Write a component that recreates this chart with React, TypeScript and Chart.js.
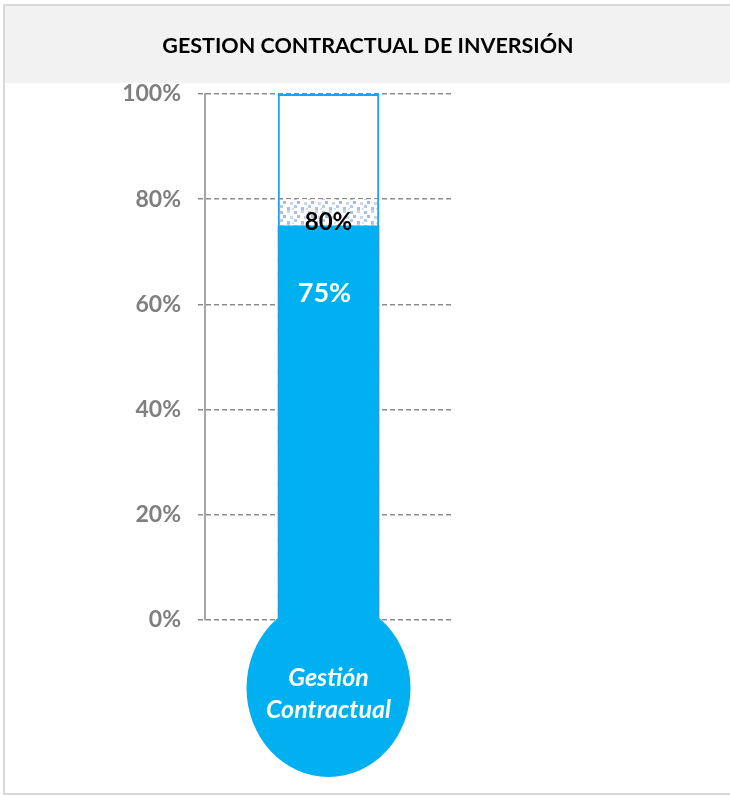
import { useEffect, useRef } from "react";
import { Chart, registerables } from "chart.js";

Chart.register(...registerables);

const categories = ["Gestión Contractual"];
const actualValues = [75];
const targetValues = [80];
const maxValues = [100];
const yTickValues = [0, 20, 40, 60, 80, 100];
const titleText = "GESTION CONTRACTUAL DE INVERSIÓN";
const bulbLines = ["Gestión", "Contractual"];

const BLUE = "#00B0F0";
const BORDER_BLUE = "#1F9EF2";
const FONT = "Lato, 'Open Sans', sans-serif";

function makePattern(): CanvasPattern | string {
  const c = document.createElement("canvas");
  c.width = 14;
  c.height = 14;
  const g = c.getContext("2d");
  if (!g) return "#dbe5f4";
  g.fillStyle = "#ffffff";
  g.fillRect(0, 0, 14, 14);
  const dots: [number, number, string][] = [
    [0, 1, "rgba(140,170,222,0.75)"],
    [7, 0, "rgba(160,185,228,0.6)"],
    [3, 5, "rgba(140,170,222,0.8)"],
    [10, 6, "rgba(165,190,230,0.6)"],
    [0, 9, "rgba(150,178,225,0.7)"],
    [7, 11, "rgba(140,170,222,0.75)"],
    [12, 12, "rgba(170,195,232,0.5)"],
  ];
  dots.forEach(([x, y, col]) => {
    g.fillStyle = col;
    g.fillRect(x, y, 3, 3);
  });
  const p = g.createPattern(c, "repeat");
  return p || "#dbe5f4";
}

const decorPlugin = {
  id: "decor",
  beforeDraw(chart: any) {
    const { ctx, width } = chart;
    ctx.save();
    ctx.fillStyle = "#ffffff";
    ctx.fillRect(0, 0, width, chart.height);
    // title band
    ctx.fillStyle = "#F2F2F2";
    ctx.fillRect(5, 6, width - 5, 77);
    // frame
    ctx.strokeStyle = "#D9D9D9";
    ctx.lineWidth = 2;
    ctx.beginPath();
    ctx.moveTo(4, 795);
    ctx.lineTo(4, 5);
    ctx.lineTo(width, 5);
    ctx.moveTo(4, 794);
    ctx.lineTo(width, 794);
    ctx.stroke();
    // title
    ctx.fillStyle = "#000000";
    ctx.font = `bold 21.5px ${FONT}`;
    ctx.textAlign = "center";
    ctx.textBaseline = "middle";
    ctx.fillText(titleText, 368, 46);
    ctx.restore();
  },
  afterDatasetsDraw(chart: any) {
    const { ctx, scales } = chart;
    const x = scales.x.getPixelForValue(0);
    const y0 = scales.y.getPixelForValue(0);
    const cx = x;
    const cy = y0 + 68;
    ctx.save();
    // bulb
    ctx.fillStyle = BLUE;
    ctx.beginPath();
    ctx.ellipse(cx, cy, 82, 89, 0, 0, Math.PI * 2);
    ctx.fill();
    ctx.fillStyle = "#ffffff";
    ctx.font = `italic bold 25px ${FONT}`;
    ctx.textAlign = "center";
    ctx.textBaseline = "middle";
    ctx.fillText(bulbLines[0], cx, cy - 10);
    ctx.fillText(bulbLines[1], cx, cy + 22);
    // value labels
    const actualBar = chart.getDatasetMeta(1).data[0];
    const targetBar = chart.getDatasetMeta(2).data[0];
    ctx.fillStyle = "#ffffff";
    ctx.font = `bold 27px ${FONT}`;
    ctx.fillText(actualValues[0] + "%", actualBar.x - 4, actualBar.y + 68);
    ctx.fillStyle = "#000000";
    ctx.font = `bold 24px ${FONT}`;
    ctx.fillText(targetValues[0] + "%", targetBar.x, targetBar.y + 23);
    ctx.restore();
  },
};

export default function App() {
  const ref = useRef<HTMLCanvasElement | null>(null);

  useEffect(() => {
    if (!ref.current) return;
    const pattern = makePattern();
    const chart = new Chart(ref.current, {
      type: "bar",
      data: {
        labels: categories,
        datasets: [
          {
            label: "Máximo",
            data: maxValues,
            backgroundColor: "rgba(0,0,0,0)",
            borderColor: BORDER_BLUE,
            borderWidth: 2,
            grouped: false,
            categoryPercentage: 1,
            barPercentage: 0.411,
          },
          {
            label: "Ejecutado",
            data: actualValues,
            backgroundColor: BLUE,
            borderWidth: 0,
            grouped: false,
            categoryPercentage: 1,
            barPercentage: 0.411,
          },
          {
            label: "Meta",
            data: targetValues,
            backgroundColor: pattern as any,
            borderWidth: 0,
            grouped: false,
            categoryPercentage: 1,
            barPercentage: 0.411,
          },
        ],
      } as any,
      options: {
        responsive: false,
        animation: false,
        devicePixelRatio: 1,
        layout: { padding: { top: 94, right: 278, bottom: 176, left: 0 } },
        plugins: {
          legend: { display: false },
          title: { display: false },
          tooltip: { enabled: false },
        },
        scales: {
          x: { display: false },
          y: {
            min: 0,
            max: 100,
            afterBuildTicks: (axis: any) => {
              axis.ticks = yTickValues.map((v) => ({ value: v }));
            },
            afterFit: (axis: any) => {
              axis.width = 205;
            },
            ticks: {
              callback: (v: any) => v + "%",
              color: "#7F7F7F",
              padding: 17,
              font: { family: FONT, size: 23, weight: "bold" },
            },
            grid: {
              color: "#8C8C8C",
              lineWidth: 1.5,
              tickLength: 7,
              tickBorderDash: [5, 3],
            },
            border: {
              display: true,
              color: "#A6A6A6",
              width: 2,
              dash: [5, 3],
            },
          },
        },
      } as any,
      plugins: [decorPlugin],
    });
    return () => chart.destroy();
  }, []);

  return (
    <div style={{ position: "absolute", left: 0, top: 0, width: 730, height: 796 }}>
      <canvas ref={ref} width={730} height={796} style={{ display: "block" }} />
    </div>
  );
}
